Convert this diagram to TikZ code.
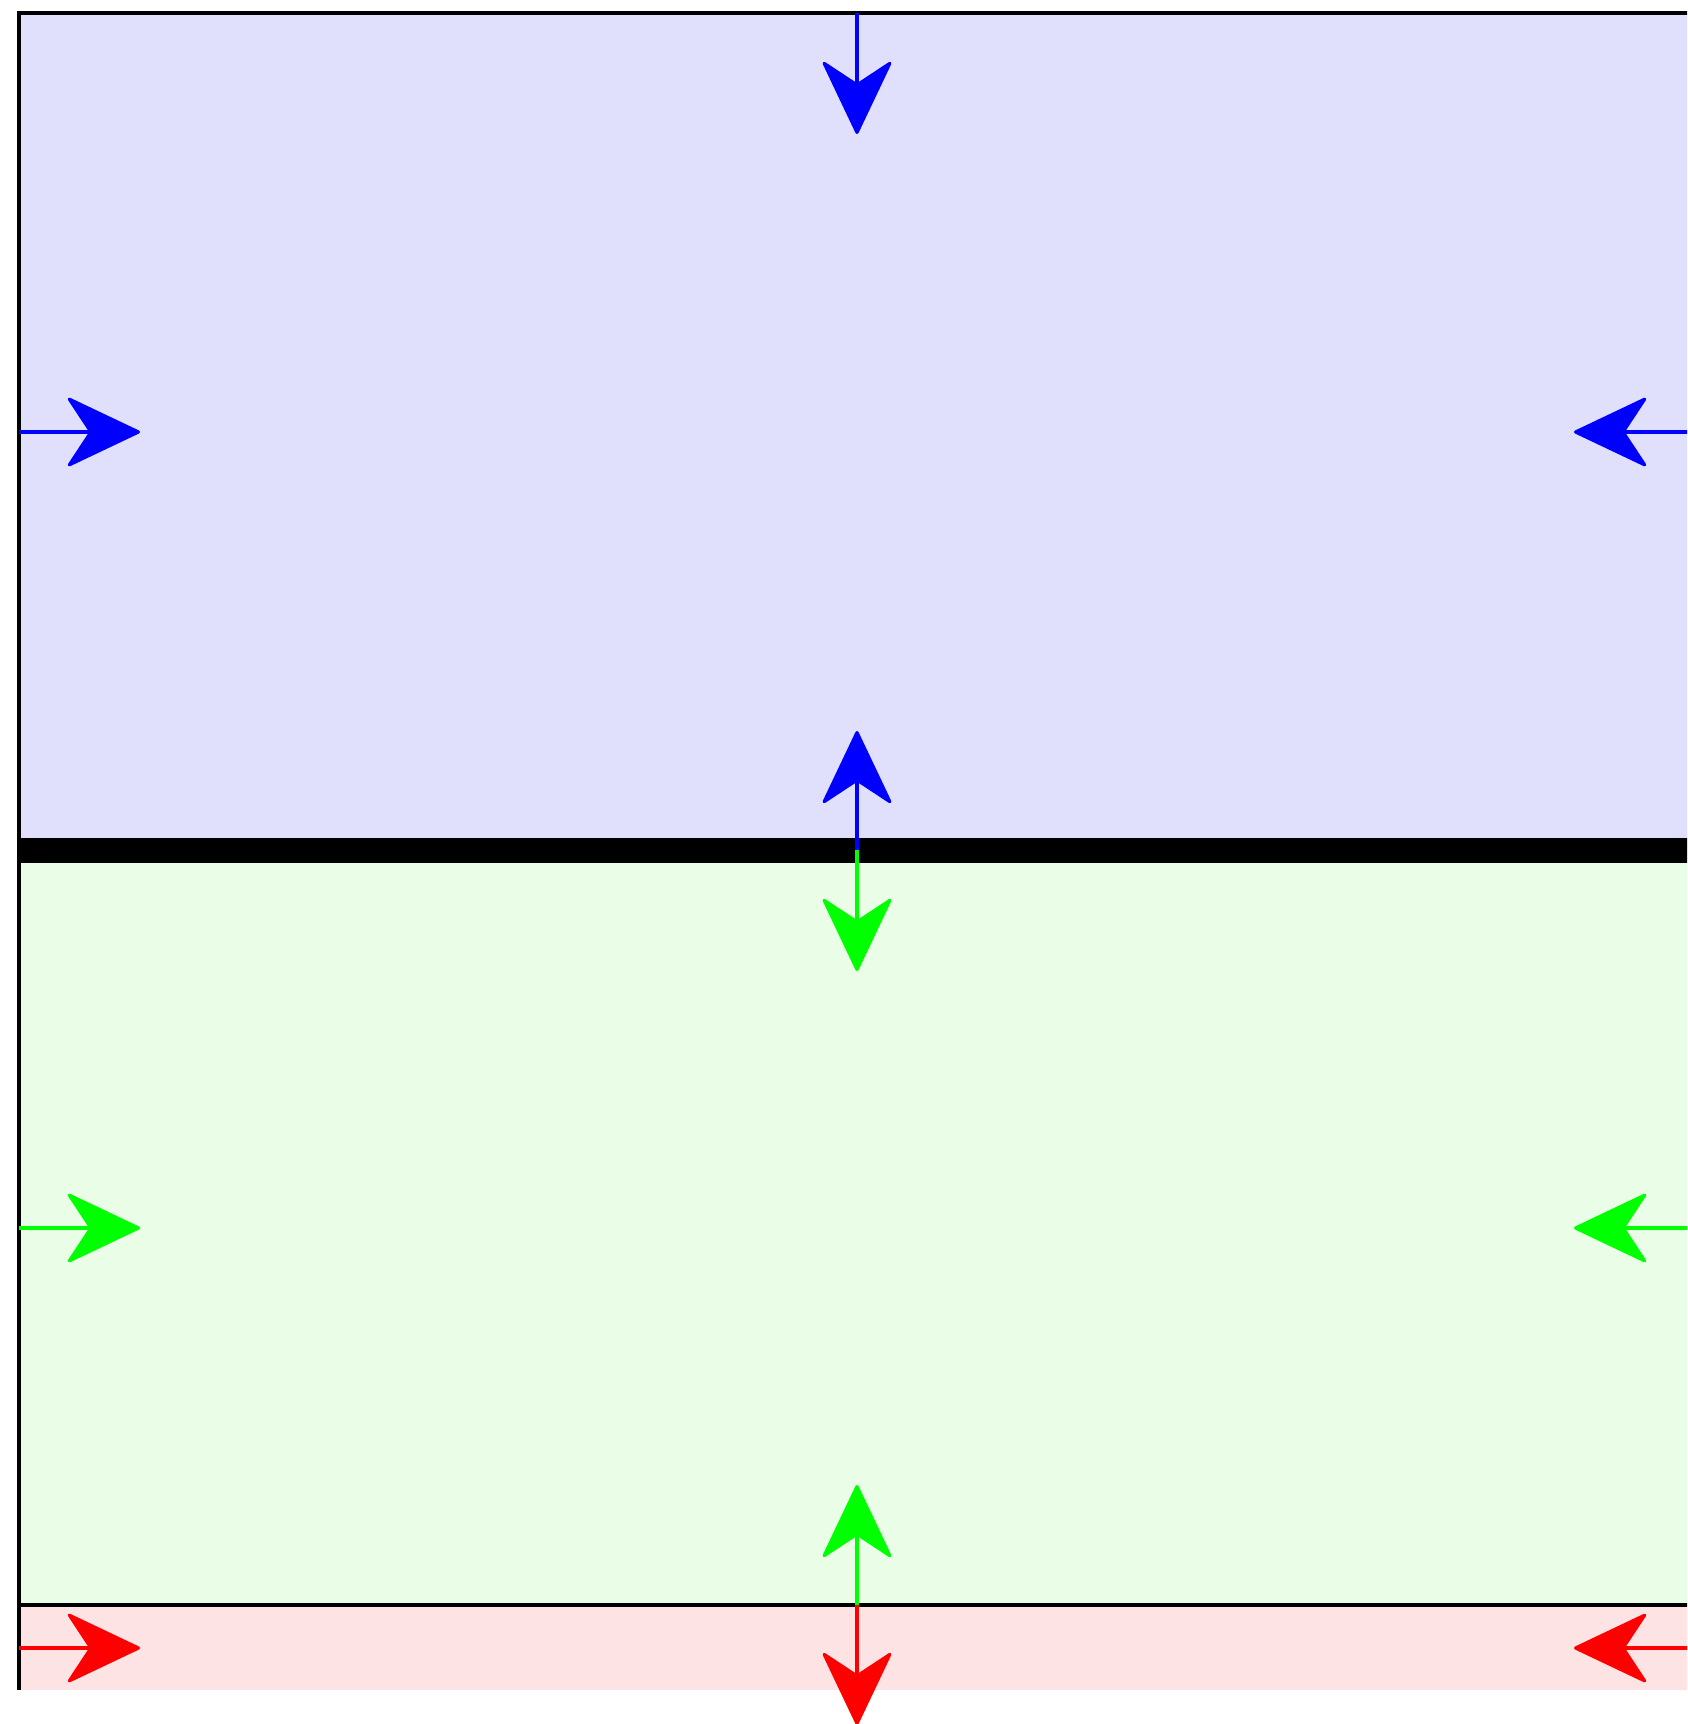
\documentclass[tikz,border=0pt]{standalone}
\usetikzlibrary{arrows.meta}
\definecolor{bluefill}{RGB}{224,224,252}
\definecolor{greenfill}{RGB}{234,253,230}
\definecolor{redfill}{RGB}{253,227,227}
\begin{document}
\begin{tikzpicture}[x=0.5pt,y=-0.5pt,
  flux/.style={line width=1.6pt,-{Stealth[length=38.5pt,width=36.5pt,inset=12pt,round]}},
  wall/.style={line width=1.75pt},
  thickwall/.style={line width=12.5pt},
  ]
\useasboundingbox (0,0) rectangle (1687,1724);
\clip (0,0) rectangle (1687,1724);
% regions
\fill[bluefill] (19,13) rectangle (1695,850);
\fill[greenfill] (19,850) rectangle (1695,1605);
\fill[redfill] (19,1605) rectangle (1695,1690);
% named points
\coordinate (tl) at (19,13);
\coordinate (tr) at (1695,13);
\coordinate (bl) at (19,1690);
\coordinate (ml) at (19,850);
\coordinate (mr) at (1695,850);
\coordinate (ll) at (19,1605);
\coordinate (lr) at (1695,1605);
% walls
\draw[wall] (bl) -- (tl) -- (tr);
\draw[thickwall] (ml) -- (mr);
\draw[wall] (ll) -- (lr);
% blue arrows
\coordinate (bT) at (857,13);   \coordinate (bTt) at (857,134);
\coordinate (bL) at (19,432);   \coordinate (bLt) at (140,432);
\coordinate (bR) at (1695,432); \coordinate (bRt) at (1574,432);
\coordinate (bB) at (857,850);  \coordinate (bBt) at (857,731);
\draw[flux,blue] (bT) -- (bTt);
\draw[flux,blue] (bL) -- (bLt);
\draw[flux,blue] (bR) -- (bRt);
\draw[flux,blue] (bB) -- (bBt);
% green arrows
\coordinate (gT) at (857,850);   \coordinate (gTt) at (857,971);
\coordinate (gL) at (19,1228);   \coordinate (gLt) at (140,1228);
\coordinate (gR) at (1695,1228); \coordinate (gRt) at (1574,1228);
\coordinate (gB) at (857,1605);  \coordinate (gBt) at (857,1485);
\draw[flux,green] (gT) -- (gTt);
\draw[flux,green] (gL) -- (gLt);
\draw[flux,green] (gR) -- (gRt);
\draw[flux,green] (gB) -- (gBt);
% red arrows
\coordinate (rT) at (857,1605);  \coordinate (rTt) at (857,1725);
\coordinate (rL) at (19,1648);   \coordinate (rLt) at (140,1648);
\coordinate (rR) at (1695,1648); \coordinate (rRt) at (1574,1648);
\draw[flux,red] (rT) -- (rTt);
\draw[flux,red] (rL) -- (rLt);
\draw[flux,red] (rR) -- (rRt);
\end{tikzpicture}
\end{document}
